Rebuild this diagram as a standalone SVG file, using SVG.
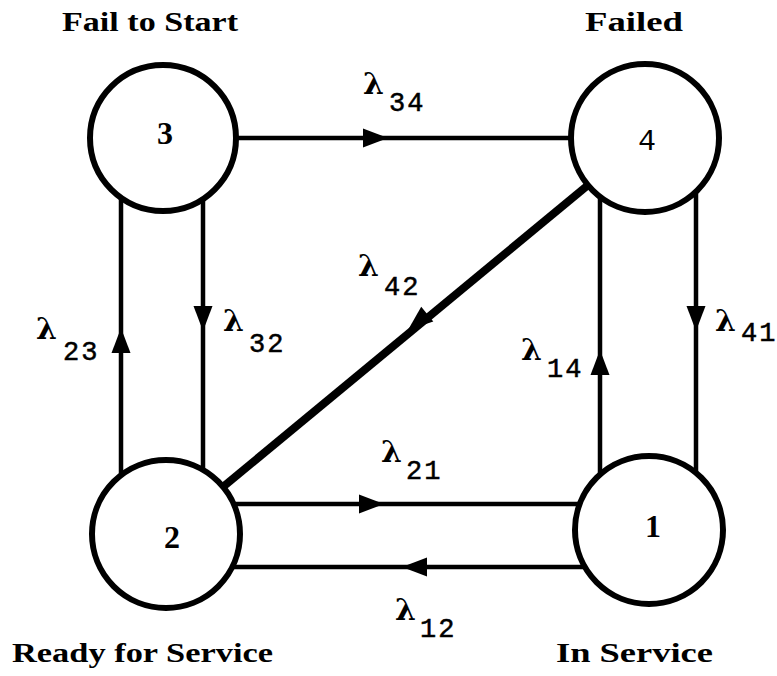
<svg xmlns="http://www.w3.org/2000/svg" width="777" height="676" viewBox="0 0 777 676">
  <style>
    .edge { stroke: #000; stroke-width: 4.5; fill: none; }
    .edge.thick { stroke-width: 8; }
    .state { fill: #fff; stroke: #000; stroke-width: 6; }
    .num { font-family: "Liberation Serif", serif; font-weight: bold; font-size: 32px; text-anchor: middle; }
    .mono { font-family: "Liberation Mono", monospace; font-size: 30px; text-anchor: middle; }
    .title { font-family: "Liberation Serif", serif; font-weight: bold; font-size: 27px; }
    .lam { font-family: "DejaVu Serif", serif; font-weight: bold; font-size: 30px; }
    .sub { font-family: "Liberation Mono", monospace; font-size: 27px; letter-spacing: 2px; stroke: #000; stroke-width: 0.5; }
  </style>
  <defs>
    <!-- arrowhead with its tip at the origin, pointing along +x -->
    <path id="ah" d="M0,0 L-25,-9.5 L-25,9.5 Z" fill="#000"/>
  </defs>

  <rect width="777" height="676" fill="#fff"/>

  <g id="connectors">
    <line class="edge" x1="163" y1="138" x2="645" y2="138"/>
    <line class="edge" x1="121" y1="138" x2="121" y2="534"/>
    <line class="edge" x1="203" y1="138" x2="203" y2="534"/>
    <line class="edge" x1="600" y1="138" x2="600" y2="530"/>
    <line class="edge" x1="696" y1="138" x2="696" y2="530"/>
    <line class="edge" x1="166" y1="504" x2="649" y2="504"/>
    <line class="edge" x1="166" y1="567" x2="649" y2="567"/>
    <line class="edge thick" x1="645" y1="138" x2="166" y2="534"/>

    <use href="#ah" transform="translate(388,138)"/>
    <use href="#ah" transform="translate(121,328) rotate(-90)"/>
    <use href="#ah" transform="translate(203,331) rotate(90)"/>
    <use href="#ah" transform="translate(408,330) rotate(140.4)"/>
    <use href="#ah" transform="translate(600,350) rotate(-90)"/>
    <use href="#ah" transform="translate(696,331) rotate(90)"/>
    <use href="#ah" transform="translate(384,504)"/>
    <use href="#ah" transform="translate(402,567) rotate(180)"/>

    <text class="lam" x="363" y="94">λ</text><text class="sub" x="389" y="111">34</text>
    <text class="lam" x="36" y="339">λ</text><text class="sub" x="63" y="360">23</text>
    <text class="lam" x="223" y="331">λ</text><text class="sub" x="249" y="352">32</text>
    <text class="lam" x="358" y="276">λ</text><text class="sub" x="384" y="295">42</text>
    <text class="lam" x="521" y="360">λ</text><text class="sub" x="547" y="377">14</text>
    <text class="lam" x="715" y="331">λ</text><text class="sub" x="741" y="341" letter-spacing="0">41</text>
    <text class="lam" x="381" y="462">λ</text><text class="sub" x="406" y="479">21</text>
    <text class="lam" x="395" y="620">λ</text><text class="sub" x="420" y="637">12</text>
  </g>

  <g id="node3">
    <circle class="state" cx="163" cy="138" r="73"/>
    <text class="num" x="165" y="144">3</text>
    <text class="title" x="62" y="31" textLength="176" lengthAdjust="spacingAndGlyphs">Fail to Start</text>
  </g>
  <g id="node4">
    <circle class="state" cx="645" cy="138" r="74"/>
    <text class="mono" x="647" y="150">4</text>
    <text class="title" x="585" y="31" textLength="98" lengthAdjust="spacingAndGlyphs">Failed</text>
  </g>
  <g id="node2">
    <circle class="state" cx="166" cy="534" r="74"/>
    <text class="num" x="172" y="548">2</text>
    <text class="title" x="12" y="662" textLength="261" lengthAdjust="spacingAndGlyphs">Ready for Service</text>
  </g>
  <g id="node1">
    <circle class="state" cx="649" cy="530" r="74"/>
    <text class="num" x="653" y="537">1</text>
    <text class="title" x="556" y="662" textLength="157" lengthAdjust="spacingAndGlyphs">In Service</text>
  </g>
</svg>
